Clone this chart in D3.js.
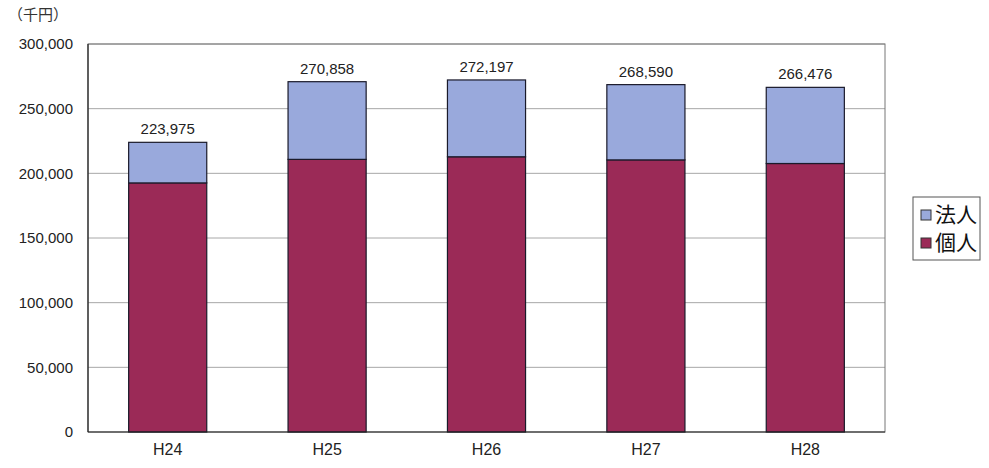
<!DOCTYPE html>
<html><head><meta charset="utf-8">
<script src="https://cdn.jsdelivr.net/npm/d3@7"></script>
<style>body{margin:0;background:#fff;}svg{display:block;font-family:"Liberation Sans",Arial,sans-serif;}</style>
</head><body><svg id="c" width="989" height="468"></svg>
<script>
const categories = ["H24","H25","H26","H27","H28"];
const kojin = [192600, 210800, 212800, 210400, 207600];   // 個人
const hojin = [31375, 60058, 59397, 58190, 58876];        // 法人
const totalLabels = ["223,975","270,858","272,197","268,590","266,476"];
const yTicks = [0, 50000, 100000, 150000, 200000, 250000, 300000];
const seriesNames = ["個人","法人"];
const colors = {"個人":"#9b2a57","法人":"#99a9dc"};

const svg = d3.select("#c");
const m = {l:88, r:885, t:44, b:432};
const x = d3.scaleBand().domain(categories).range([m.l, m.r]).paddingInner(0.51).paddingOuter(0.255);
const y = d3.scaleLinear().domain([0,300000]).range([m.b, m.t]);

// gridlines
svg.append("g").selectAll("line").data(yTicks.filter(d=>d>0)).join("line")
  .attr("x1", m.l).attr("x2", m.r).attr("y1", d=>y(d)).attr("y2", d=>y(d))
  .attr("stroke", "#a8a8a8").attr("stroke-width", 1);
// frame
svg.append("rect").attr("x", m.l).attr("y", m.t).attr("width", m.r-m.l).attr("height", m.b-m.t)
  .attr("fill","none").attr("stroke","#777").attr("stroke-width",1);

const data = categories.map((c,i)=>({cat:c, "個人":kojin[i], "法人":hojin[i]}));
const stacked = d3.stack().keys(seriesNames)(data);
svg.append("g").selectAll("g").data(stacked).join("g")
  .attr("fill", s=>colors[s.key])
  .selectAll("rect").data(s=>s).join("rect")
  .attr("x", d=>x(d.data.cat)).attr("width", x.bandwidth())
  .attr("y", d=>y(d[1])).attr("height", d=>y(d[0])-y(d[1]))
  .attr("stroke","#1a1a2a").attr("stroke-width",1.2);

// axes lines
svg.append("line").attr("x1",m.l).attr("x2",m.l).attr("y1",m.t).attr("y2",m.b).attr("stroke","#222").attr("stroke-width",1.2);
svg.append("line").attr("x1",m.l).attr("x2",m.r).attr("y1",m.b).attr("y2",m.b).attr("stroke","#222").attr("stroke-width",1.2);

// y axis labels
const yAxis = d3.axisLeft(y).tickValues(yTicks).tickSize(0).tickPadding(15).tickFormat(d3.format(","));
const ya = svg.append("g").attr("transform",`translate(${m.l},0)`).call(yAxis);
ya.select(".domain").remove();
ya.selectAll("text").attr("font-size",15).attr("fill","#222");

// x axis labels
const xAxis = d3.axisBottom(x).tickSize(0).tickPadding(12);
const xa = svg.append("g").attr("transform",`translate(0,${m.b})`).call(xAxis);
xa.select(".domain").remove();
xa.selectAll("text").attr("font-size",16).attr("fill","#222");

// total labels
svg.append("g").selectAll("text").data(categories).join("text")
  .attr("x", c=>x(c)+x.bandwidth()/2)
  .attr("y", (c,i)=>y(kojin[i]+hojin[i])-8)
  .attr("text-anchor","middle").attr("font-size",15).attr("fill","#222")
  .text((c,i)=>totalLabels[i]);

// unit label
svg.append("text").attr("x",8).attr("y",20).attr("font-size",15).attr("fill","#333")
  .attr("font-family","'Noto Sans CJK JP',sans-serif").text("（千円）");

// legend
const lg = svg.append("g").attr("transform","translate(913,197)");
lg.append("rect").attr("width",67).attr("height",63).attr("fill","#fff").attr("stroke","#555").attr("stroke-width",1);
const legendItems = ["法人","個人"];
legendItems.forEach((k,i)=>{
  const g = lg.append("g").attr("transform",`translate(0,${18+i*28})`);
  g.append("rect").attr("x",8).attr("y",-5).attr("width",10).attr("height",10)
    .attr("fill",colors[k]).attr("stroke","#333").attr("stroke-width",1);
  g.append("text").attr("x",22).attr("y",7).attr("font-size",21).attr("fill","#111")
    .attr("font-family","'Noto Sans CJK JP',sans-serif").text(k);
});
</script></body></html>
